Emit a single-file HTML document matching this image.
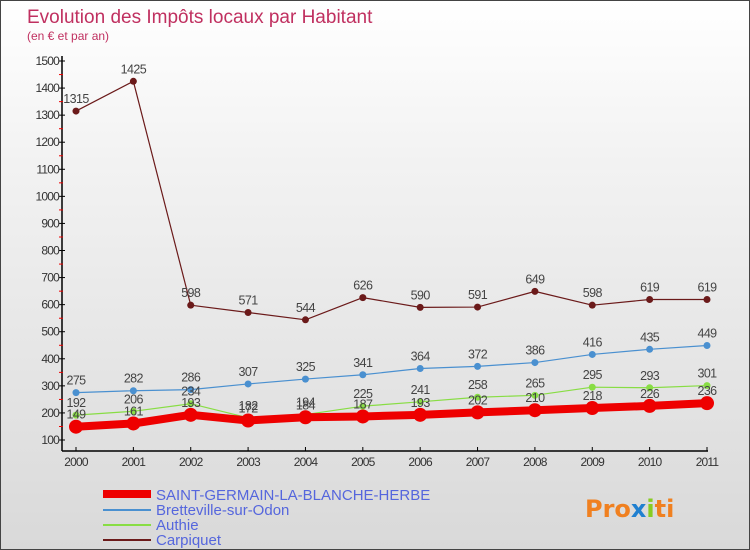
<!DOCTYPE html>
<html><head><meta charset="utf-8"><style>
body{margin:0}
#c{width:750px;height:550px;position:relative;font-family:"DejaVu Sans","Liberation Sans",sans-serif;background:linear-gradient(#fff 0%,#f2f2f2 30%,#d9d9d9 100%);overflow:hidden;box-sizing:border-box;border:1px solid #444}
</style></head><body>
<div id="c">
<svg width="750" height="550" id="svg">
<text x="26" y="22" font-size="19" fill="#c03060" font-family="Liberation Sans,sans-serif">Evolution des Impôts locaux par Habitant</text>
<text x="26" y="39" font-size="12" fill="#c03060" font-family="Liberation Sans,sans-serif">(en € et par an)</text>
<g id="axes"></g><g id="series"></g>
<g font-family="Liberation Sans,sans-serif">
<line x1="102" y1="493" x2="150" y2="493" stroke="#ee0000" stroke-width="8"/>
<text x="155" y="499" font-size="15" fill="#5566dd">SAINT-GERMAIN-LA-BLANCHE-HERBE</text>
<line x1="102" y1="509" x2="150" y2="509" stroke="#4a90d0" stroke-width="2"/>
<text x="155" y="514" font-size="15" fill="#5566dd">Bretteville-sur-Odon</text>
<line x1="102" y1="524" x2="150" y2="524" stroke="#88dd44" stroke-width="2"/>
<text x="155" y="529" font-size="15" fill="#5566dd">Authie</text>
<line x1="102" y1="539" x2="150" y2="539" stroke="#6b1a1a" stroke-width="2"/>
<text x="155" y="544" font-size="15" fill="#5566dd">Carpiquet</text>
</g>
<text x="584" y="516" font-size="24" font-weight="bold" fill="#f08020">Pro<tspan fill="#2080d0">x</tspan><tspan fill="#88cc22">i</tspan><tspan fill="#f08020">ti</tspan></text>
</svg>
</div>
<script>
const years=["2000","2001","2002","2003","2004","2005","2006","2007","2008","2009","2010","2011"];
const yTicks=[100,200,300,400,500,600,700,800,900,1000,1100,1200,1300,1400,1500];
const sgValues=[149,161,193,172,184,187,193,202,210,218,226,236];
const brettevilleValues=[275,282,286,307,325,341,364,372,386,416,435,449];
const authieValues=[192,206,234,182,194,225,241,258,265,295,293,301];
const carpiquetValues=[1315,1425,598,571,544,626,590,591,649,598,619,619];
const NS="http://www.w3.org/2000/svg";
function xS(i){return 75+i*(706-75)/(years.length-1);}
function yS(v){return 439-(v-100)*(379/1400);}
function mk(t,a,p){const e=document.createElementNS(NS,t);for(const k in a)e.setAttribute(k,a[k]);p.appendChild(e);return e;}
const ax=document.getElementById('axes');
let e=mk('line',{x1:61,y1:55,x2:61,y2:450,stroke:'#000','stroke-width':1.5},ax);


e=mk('line',{x1:61,y1:450,x2:707,y2:450,stroke:'#000','stroke-width':1.5},ax);


yTicks.forEach(v=>{const y=yS(v);
mk('line',{x1:58,y1:y,x2:64,y2:y,stroke:'#000'},ax);
if(v<1500)mk('line',{x1:58,y1:y-13.5,x2:62,y2:y-13.5,stroke:'#e00'},ax);
const t=mk('text',{x:58,y:y+4,'font-size':12,fill:'#333','text-anchor':'end','letter-spacing':'-0.8','font-family':'Liberation Sans,sans-serif'},ax);t.textContent=v;

});
years.forEach((yr,i)=>{const x=xS(i);
mk('line',{x1:x,y1:446,x2:x,y2:450,stroke:'#000'},ax);
const t=mk('text',{x:x,y:465,'font-size':12,fill:'#333','text-anchor':'middle','letter-spacing':'-0.8','font-family':'Liberation Sans,sans-serif'},ax);t.textContent=yr;

});
const sg=document.getElementById('series');
function series(vals,color,w,r,name){
const g=mk('g',{},sg);


mk('polyline',{points:vals.map((v,i)=>xS(i)+','+yS(v)).join(' '),fill:'none',stroke:color,'stroke-width':w,'stroke-linejoin':'round'},g);
vals.forEach((v,i)=>{const c=mk('circle',{cx:xS(i),cy:yS(v),r:r,fill:color},g);


const t=mk('text',{x:xS(i),y:yS(v)-8,'font-size':12.5,fill:'#444','text-anchor':'middle','letter-spacing':'-0.6','font-family':'Liberation Sans,sans-serif'},g);t.textContent=v;

});}
series(carpiquetValues,'#6b1a1a',1.2,3.5,'series-carpiquet');
series(brettevilleValues,'#4a90d0',1.2,3.5,'series-bretteville');
series(authieValues,'#88dd44',1.2,3.5,'series-authie');
series(sgValues,'#ee0000',8,7,'series-saint-germain');
</script>
</body></html>
